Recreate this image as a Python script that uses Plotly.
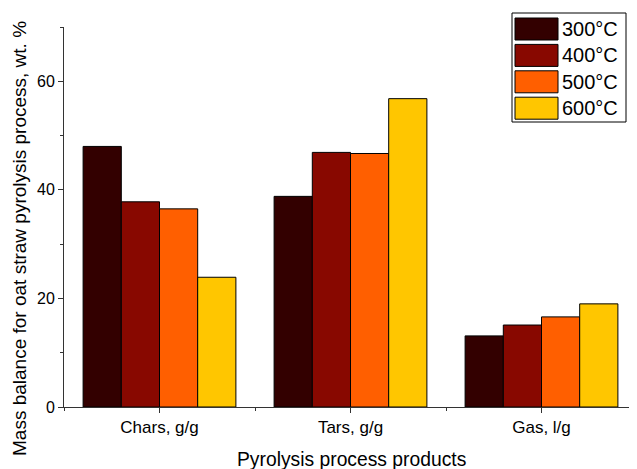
import plotly.graph_objects as go

categories = ["Chars, g/g", "Tars, g/g", "Gas, l/g"]
series_names = ["300°C", "400°C", "500°C", "600°C"]
values_300 = [48.0, 38.8, 13.1]
values_400 = [37.8, 46.9, 15.1]
values_500 = [36.5, 46.7, 16.6]
values_600 = [23.9, 56.8, 19.0]
colors = ["#330000", "#880800", "#FF5F00", "#FFC600"]

all_values = [values_300, values_400, values_500, values_600]
xpos = list(range(len(categories)))

OFF = 8  # page body margin
W, H = 629, 461
ML, MR, MT, MB = 56, 0, 19, 62
PW, PH = W - ML - MR, H - MT - MB


def px_x(p):
    return (p - OFF - ML) / PW


def px_y(p):
    return (H - MB - (p - OFF)) / PH


fig = go.Figure()
for name, vals, col in zip(series_names, all_values, colors):
    fig.add_trace(go.Bar(
        x=xpos, y=vals, name=name,
        marker=dict(color=col, line=dict(color="#000000", width=1)),
    ))

FONT = "Liberation Sans, Arial, sans-serif"

# custom legend (large swatches like the original)
shapes = [dict(type="rect", xref="paper", yref="paper",
               x0=px_x(512), x1=px_x(626), y0=px_y(122), y1=px_y(13),
               line=dict(color="#000000", width=1), fillcolor="white", layer="above")]
annotations = []
for i, (name, col) in enumerate(zip(series_names, colors)):
    top = 18 + i * 26.4
    shapes.append(dict(type="rect", xref="paper", yref="paper",
                       x0=px_x(515), x1=px_x(558), y0=px_y(top + 22), y1=px_y(top),
                       line=dict(color="#000000", width=1), fillcolor=col, layer="above"))
    annotations.append(dict(xref="paper", yref="paper", x=px_x(560), y=px_y(top + 11),
                            text=name, showarrow=False, xanchor="left", yanchor="middle",
                            font=dict(family=FONT, size=20, color="#000000")))

annotations.append(dict(xref="paper", yref="paper", x=px_x(20), y=px_y(239),
                        text="Mass balance for oat straw pyrolysis process, wt. %",
                        textangle=-90, showarrow=False, xanchor="center", yanchor="middle",
                        font=dict(family=FONT, size=19, color="#000000")))
annotations.append(dict(xref="paper", yref="paper", x=px_x(351), y=px_y(460),
                        text="Pyrolysis process products",
                        showarrow=False, xanchor="center", yanchor="middle",
                        font=dict(family=FONT, size=19.3, color="#000000")))

fig.update_layout(
    width=W, height=H,
    margin=dict(l=ML, r=MR, t=MT, b=MB),
    plot_bgcolor="white", paper_bgcolor="white",
    barmode="group", bargap=0.2, bargroupgap=0,
    font=dict(family=FONT, size=16, color="#000000"),
    showlegend=False,
    shapes=shapes,
    annotations=annotations,
    xaxis=dict(
        range=[-0.5, 2.5], showline=True, linecolor="#333333", linewidth=1,
        tickmode="array", tickvals=xpos, ticktext=categories,
        tickfont=dict(family=FONT, size=17, color="#000000"),
        ticks="outside", ticklen=5, tickcolor="#333333",
        showgrid=False, zeroline=False, automargin=False,
        minor=dict(tickmode="array", tickvals=[-0.5, 0.5, 1.5, 2.5], ticks="outside",
                   ticklen=3, tickcolor="#333333", showgrid=False),
    ),
    yaxis=dict(
        range=[0, 70], showline=True, linecolor="#333333", linewidth=1,
        tickmode="array", tickvals=[0, 20, 40, 60], ticks="outside", ticklen=5, tickcolor="#333333",
        tickfont=dict(family=FONT, size=16, color="#000000"),
        showgrid=False, zeroline=False, automargin=False,
        minor=dict(tickmode="array", tickvals=[10, 30, 50, 70], ticks="outside",
                   ticklen=3, tickcolor="#333333", showgrid=False),
    ),
)

fig.write_html("out.html")
